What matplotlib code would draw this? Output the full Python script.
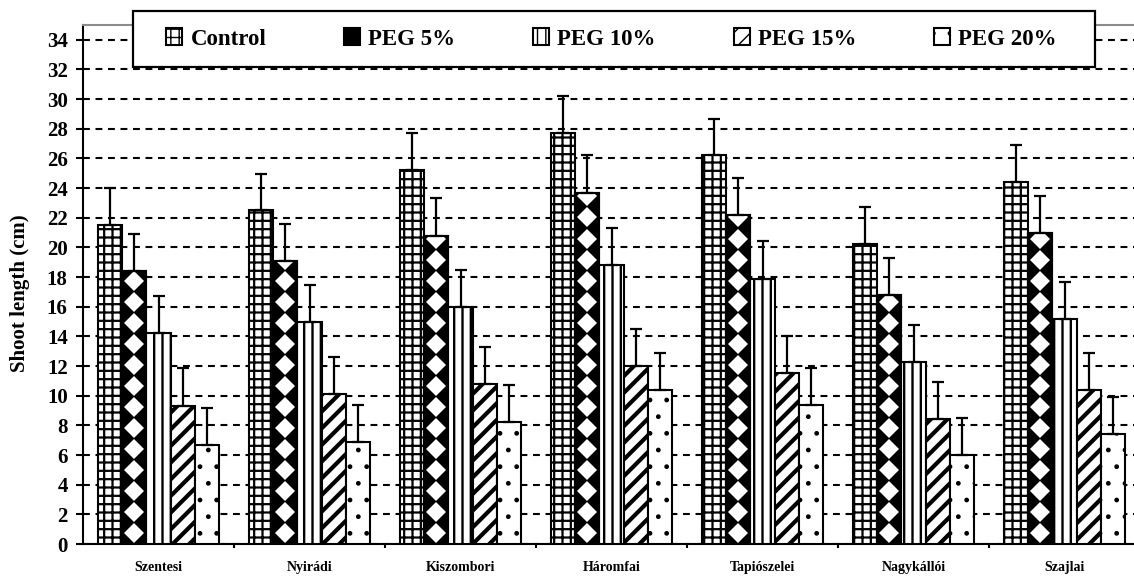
import numpy as np
import matplotlib
matplotlib.use("Agg")
import matplotlib.pyplot as plt
from matplotlib.patches import Rectangle

plt.rcParams['font.family'] = ['Liberation Serif', 'DejaVu Serif']
plt.rcParams['font.weight'] = 'bold'

sites = ['Szentesi', 'Nyirádi', 'Kiszombori', 'Háromfai',
         'Tapiószelei', 'Nagykállói', 'Szajlai']
treatments = ['Control', 'PEG 5%', 'PEG 10%', 'PEG 15%', 'PEG 20%']

control = [21.5, 22.5, 25.2, 27.7, 26.2, 20.2, 24.4]
peg5 = [18.4, 19.1, 20.8, 23.7, 22.2, 16.8, 21.0]
peg10 = [14.2, 15.0, 16.0, 18.8, 17.9, 12.3, 15.2]
peg15 = [9.3, 10.1, 10.8, 12.0, 11.5, 8.4, 10.4]
peg20 = [6.7, 6.9, 8.2, 10.4, 9.4, 6.0, 7.4]

control_err = [2.5, 2.45, 2.5, 2.5, 2.45, 2.5, 2.5]
peg5_err = [2.5, 2.5, 2.5, 2.5, 2.5, 2.5, 2.5]
peg10_err = [2.5, 2.5, 2.5, 2.5, 2.5, 2.5, 2.5]
peg15_err = [2.6, 2.5, 2.5, 2.5, 2.5, 2.5, 2.5]
peg20_err = [2.5, 2.5, 2.5, 2.5, 2.5, 2.5, 2.5]

series = [control, peg5, peg10, peg15, peg20]
errors = [control_err, peg5_err, peg10_err, peg15_err, peg20_err]

# fill / hatch / hatch line width per treatment
styles = [
    dict(face='white', hatch='++', hlw=1.6),
    dict(face='black', hatch=None, hlw=1.0),
    dict(face='white', hatch='||', hlw=1.7),
    dict(face='white', hatch='//', hlw=3.0),
    dict(face='white', hatch='.', hlw=1.0),
]

fig = plt.figure(figsize=(11.34, 5.76), dpi=100)
ax = fig.add_axes([83 / 1134, 32 / 576, 1057 / 1134, 519 / 576])

x = np.arange(len(sites))
w = 0.16
for i, (vals, errs, st) in enumerate(zip(series, errors, styles)):
    pos = x + (i - 2) * w
    with plt.rc_context({'hatch.linewidth': st['hlw']}):
        bars = ax.bar(pos, vals, w, color=st['face'], edgecolor='black',
                      linewidth=1.5, hatch=st['hatch'], label=treatments[i],
                      zorder=3)
        for b in bars:
            if hasattr(b, 'set_hatch_linewidth'):
                b.set_hatch_linewidth(st['hlw'])
    if i == 1:
        # white diamonds stacked inside the black bars
        ys = np.arange(0.72, 36, 1.42)
        for p, b in zip(pos, bars):
            ln, = ax.plot(np.full(len(ys), p), ys, ls='none', marker='D',
                          ms=9.8, mfc='white', mew=0, zorder=4)
            ln.set_clip_path(b)
            ax.bar(p, b.get_height(), w, fill=False, edgecolor='black',
                   linewidth=1.5, zorder=4)
    ax.errorbar(pos, vals, yerr=[np.zeros(len(vals)), errs], fmt='none',
                ecolor='black', elinewidth=1.6, capsize=4.3, capthick=1.6,
                zorder=5)

ax.set_xlim(-0.5, 6.5)
ax.set_ylim(0, 35)
ax.set_yticks(np.arange(0, 35, 2))
ax.set_xticks(x)
ax.set_xticklabels(sites, fontsize=10, fontweight='bold')
ax.set_xticks(np.arange(0.5, 6.5, 1), minor=True)
ax.tick_params(axis='x', which='major', length=0, pad=12)
ax.tick_params(axis='x', which='minor', direction='out', length=3, width=1.5)
ax.tick_params(axis='y', direction='out', length=5, width=1.5, pad=6,
               labelsize=15)
for t in ax.get_yticklabels():
    t.set_fontweight('bold')

ax.yaxis.grid(True, color='black', linewidth=1.5, linestyle=(0, (3.3, 2.7)),
              zorder=0)
ax.set_axisbelow(True)

ax.set_ylabel('Shoot length (cm)', fontsize=15, fontweight='bold')
ax.yaxis.set_label_coords(-0.05, 0.484)

ax.spines['left'].set_linewidth(1.5)
ax.spines['bottom'].set_linewidth(1.5)
ax.spines['top'].set_color('#8c8c8c')
ax.spines['top'].set_linewidth(1.5)
ax.spines['right'].set_visible(False)

# legend box drawn on its own so the padding can be wider than tall
box = Rectangle((133 / 1134, 1 - 67 / 576), 962 / 1134, 56 / 576,
                transform=fig.transFigure, facecolor='white',
                edgecolor='black', linewidth=1.6, zorder=4)
fig.patches.append(box)
leg = fig.legend(*ax.get_legend_handles_labels(), loc='center', ncol=5,
                 bbox_to_anchor=(611.5 / 1134, 1 - 39 / 576),
                 fontsize=16.5, frameon=False, handlelength=0.7,
                 handleheight=0.7, handletextpad=0.35, columnspacing=3.4,
                 borderpad=0)
leg.set_zorder(6)

fig.savefig('out.png', dpi=100)
